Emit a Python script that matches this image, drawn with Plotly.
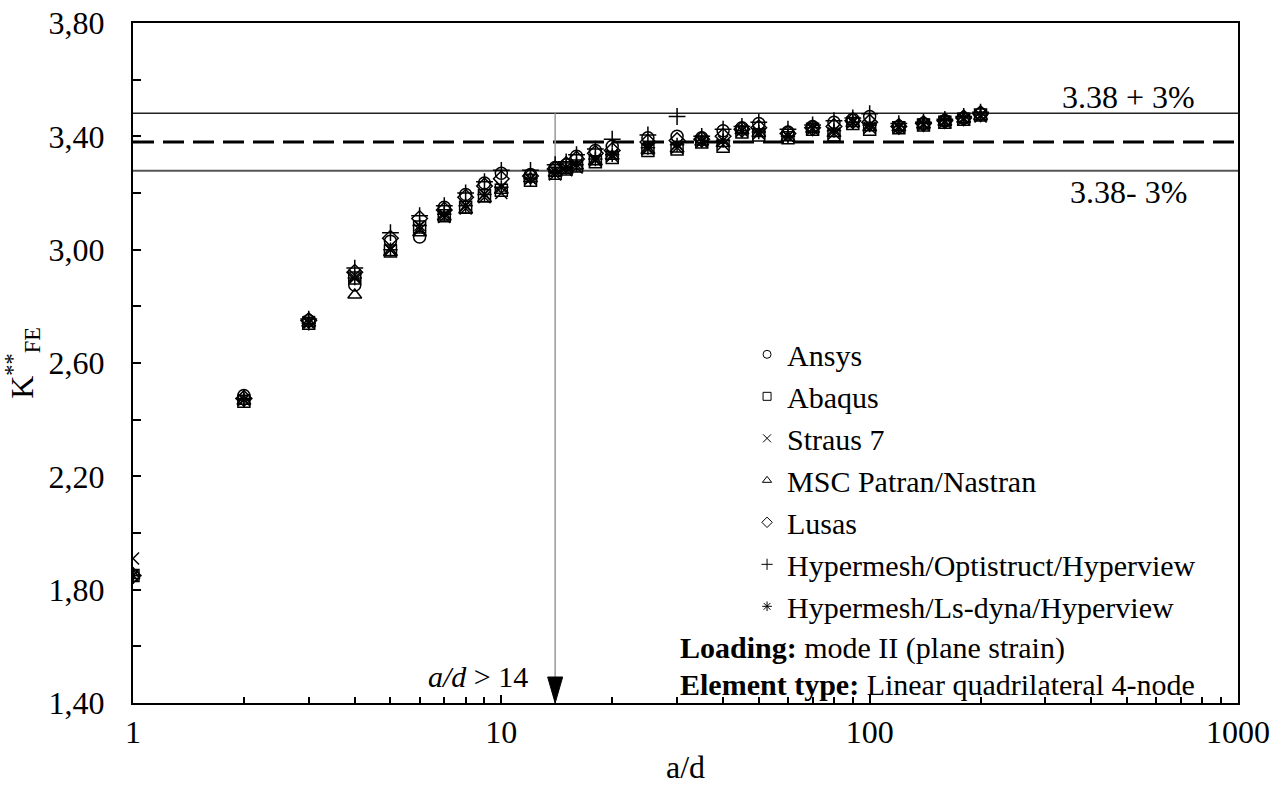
import plotly.graph_objects as go

# ---- data ----
ad = [1, 2, 3, 4, 5, 6, 7, 8, 9, 10, 12, 14, 15, 16, 18, 20, 25, 30, 35, 40, 45, 50,
      60, 70, 80, 90, 100, 120, 140, 160, 180, 200]

ansys = [1.85, 2.485, 2.75, 2.875, 3.03, 3.045, 3.15, 3.195, 3.235, 3.27, 3.265, 3.29, 3.30, 3.33,
         3.35, 3.365, 3.395, 3.40, 3.395, 3.42, 3.43, 3.445, 3.415, 3.435, 3.45, 3.46, 3.47,
         3.435, 3.445, 3.455, 3.465, 3.48]
abaqus = [1.85, 2.465, 2.74, 2.90, 2.995, 3.08, 3.12, 3.15, 3.19, 3.21, 3.245, 3.27, 3.285, 3.295,
          3.31, 3.325, 3.35, 3.355, 3.38, 3.365, 3.415, 3.405, 3.395, 3.425, 3.405, 3.445, 3.425,
          3.43, 3.44, 3.45, 3.46, 3.475]
straus7 = [1.91, 2.47, 2.745, 2.91, 3.00, 3.07, 3.115, 3.145, 3.185, 3.20, 3.25, 3.265, 3.28, 3.29,
           3.315, 3.33, 3.355, 3.36, 3.38, 3.37, 3.42, 3.41, 3.40, 3.425, 3.41, 3.45, 3.43,
           3.43, 3.44, 3.45, 3.46, 3.47]
msc = [1.85, 2.465, 2.74, 2.84, 2.99, 3.06, 3.115, 3.14, 3.18, 3.21, 3.25, 3.27, 3.28, 3.295,
       3.31, 3.33, 3.35, 3.355, 3.38, 3.375, 3.42, 3.41, 3.395, 3.425, 3.41, 3.445, 3.43,
       3.43, 3.44, 3.45, 3.46, 3.47]
lusas = [1.85, 2.475, 2.75, 2.92, 3.04, 3.11, 3.14, 3.185, 3.225, 3.25, 3.26, 3.285, 3.30, 3.32,
         3.34, 3.35, 3.38, 3.385, 3.39, 3.40, 3.425, 3.43, 3.41, 3.43, 3.435, 3.455, 3.45,
         3.435, 3.445, 3.455, 3.465, 3.48]
hyper_opt = [1.85, 2.475, 2.755, 2.935, 3.06, 3.12, 3.155, 3.20, 3.24, 3.28, 3.28, 3.30, 3.31, 3.335,
             3.355, 3.39, 3.405, 3.47, 3.40, 3.425, 3.435, 3.45, 3.425, 3.44, 3.455, 3.465, 3.48,
             3.445, 3.45, 3.46, 3.47, 3.485]
hyper_ls = [1.85, 2.47, 2.74, 2.90, 3.00, 3.085, 3.125, 3.155, 3.195, 3.22, 3.25, 3.275, 3.29, 3.30,
            3.32, 3.335, 3.36, 3.37, 3.385, 3.385, 3.42, 3.415, 3.40, 3.43, 3.42, 3.45, 3.44,
            3.435, 3.445, 3.455, 3.465, 3.475]

series_names = ["Ansys", "Abaqus", "Straus 7", "MSC Patran/Nastran", "Lusas",
                "Hypermesh/Optistruct/Hyperview", "Hypermesh/Ls-dyna/Hyperview"]
series_values = [ansys, abaqus, straus7, msc, lusas, hyper_opt, hyper_ls]
series_symbols = ["circle-open", "square-open", "x-thin-open", "triangle-up-open",
                  "diamond-open", "cross-thin-open", "asterisk-open"]

k_ref = 3.38
k_upper = k_ref * 1.03
k_lower = k_ref * 0.97
ad_limit = 14

y_ticks = [1.40, 1.80, 2.20, 2.60, 3.00, 3.40, 3.80]
x_ticks = [1, 10, 100, 1000]

FONT = "Liberation Serif, Times New Roman, serif"
FS = 30
FS_AX = 32

fig = go.Figure()
for name, vals, sym in zip(series_names, series_values, series_symbols):
    fig.add_trace(go.Scatter(
        x=ad, y=vals, mode="markers", name=name, showlegend=False,
        marker=dict(symbol=sym, size=12, color="black",
                    line=dict(color="black", width=1.5)),
    ))
# legend entries (small symbols, no marks in the plot)
for name, sym in zip(series_names, series_symbols):
    fig.add_trace(go.Scatter(
        x=[None], y=[None], mode="markers", name=name, showlegend=True,
        marker=dict(symbol=sym, size=8, color="black",
                    line=dict(color="black", width=1)),
    ))

shapes = [
    dict(type="line", xref="x domain", yref="y", x0=0, x1=1, y0=k_upper, y1=k_upper,
         line=dict(color="#222222", width=1.5), layer="below"),
    dict(type="line", xref="x domain", yref="y", x0=0, x1=1, y0=k_lower, y1=k_lower,
         line=dict(color="#555555", width=2), layer="below"),
    dict(type="line", xref="x domain", yref="y", x0=0, x1=1, y0=k_ref, y1=k_ref,
         line=dict(color="black", width=3, dash="21px,9px"), layer="below"),
    dict(type="line", xref="x", yref="y", x0=ad_limit, x1=ad_limit, y0=y_ticks[0], y1=k_upper,
         line=dict(color="#999999", width=1.5), layer="below"),
    dict(type="path", xref="x", yref="y", xsizemode="pixel", ysizemode="pixel",
         xanchor=ad_limit, yanchor=y_ticks[0],
         path="M -7.5,26 L 7.5,26 L 0,0 Z", fillcolor="black", line=dict(color="black", width=1)),
]

annotations = [
    dict(text="3.38 + 3%", xref="paper", yref="paper", x=0.9005, y=0.891,
         xanchor="center", yanchor="middle",
         showarrow=False, font=dict(family=FONT, size=FS_AX, color="black")),
    dict(text="3.38- 3%", xref="paper", yref="paper", x=0.9005, y=0.7517,
         xanchor="center", yanchor="middle",
         showarrow=False, font=dict(family=FONT, size=FS_AX, color="black")),
    dict(text="<i>a/d</i> &gt; 14", xref="paper", yref="paper", x=0.3593, y=0.039,
         xanchor="right", yanchor="middle", showarrow=False,
         font=dict(family=FONT, size=FS, color="black")),
    dict(text="<b>Loading:</b> mode II (plane strain)", xref="paper", yref="paper",
         x=0.4932, y=0.0816, xanchor="left", yanchor="middle", showarrow=False,
         font=dict(family=FONT, size=FS, color="black")),
    dict(text="<b>Element type:</b> Linear quadrilateral 4-node", xref="paper", yref="paper",
         x=0.4932, y=0.0272, xanchor="left", yanchor="middle", showarrow=False,
         font=dict(family=FONT, size=FS, color="black")),
]

fig.update_layout(
    width=1282, height=787,
    margin=dict(l=133, r=44, t=23, b=83.5, autoexpand=False),
    paper_bgcolor="white", plot_bgcolor="white",
    font=dict(family=FONT, size=FS, color="black"),
    separators=",.",
    showlegend=True,
    legend=dict(x=0.5557, y=0.551, xanchor="left", yanchor="top",
                bgcolor="rgba(0,0,0,0)", font=dict(family=FONT, size=FS, color="black"),
                tracegroupgap=0, itemsizing="trace"),
    shapes=shapes,
    annotations=annotations,
    xaxis=dict(type="log", range=[0, 3], tickvals=x_ticks, ticktext=[str(v) for v in x_ticks],
               ticks="inside", ticklen=8, tickwidth=1.5, tickcolor="black",
               minor=dict(ticks="inside", ticklen=6, tickwidth=1.5, tickcolor="black",
                          dtick="D1", showgrid=False),
               showline=True, linecolor="black", linewidth=2, mirror=True,
               showgrid=False, zeroline=False, automargin=False,
               title=dict(text="a/d", font=dict(family=FONT, size=FS_AX), standoff=6),
               tickfont=dict(family=FONT, size=FS_AX)),
    yaxis=dict(range=[1.4, 3.8], tickvals=y_ticks, tickformat=".2f",
               ticks="inside", ticklen=8, tickwidth=1.5, tickcolor="black",
               minor=dict(ticks="inside", ticklen=8, tickwidth=1.5, tickcolor="black",
                          dtick=0.2, tick0=1.4, showgrid=False),
               showline=True, linecolor="black", linewidth=2, mirror=True,
               showgrid=False, zeroline=False, automargin=False,
               ticklabelstandoff=20,
               title=dict(text="K<sup>**</sup><sub>FE</sub>", font=dict(family=FONT, size=FS_AX),
                          standoff=10),
               tickfont=dict(family=FONT, size=FS_AX)),
)

fig.write_html("out.html")
